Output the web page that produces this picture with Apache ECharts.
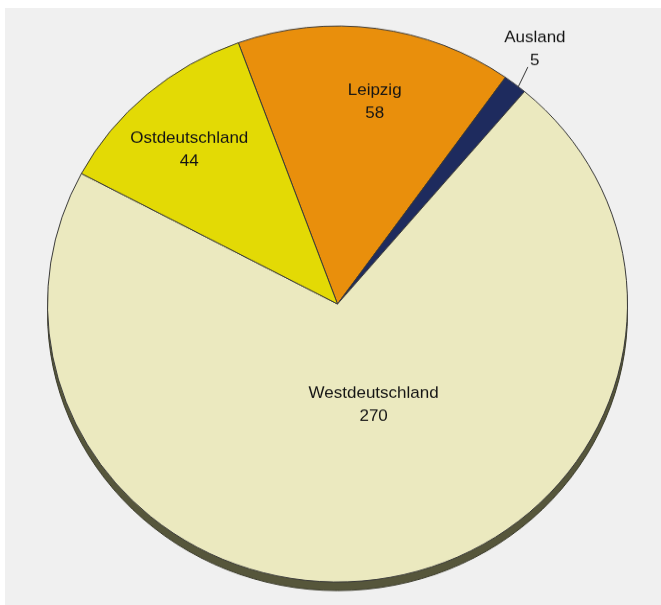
<!DOCTYPE html>
<html><head><meta charset="utf-8">
<script src="https://cdn.jsdelivr.net/npm/echarts@6/dist/echarts.min.js"></script>
<style>
html,body{margin:0;padding:0;background:#fff;overflow:hidden;width:661px;height:605px}
#bg{position:absolute;left:5px;top:8px;width:656px;height:597px;background:#f0f0f0}
#chart{position:absolute;left:0;top:0;width:661px;height:660px;transform:scaleY(0.9586);transform-origin:0 0}
</style></head><body>
<div id="bg"></div><div id="chart"></div>
<script>
// Data (drawing order: clockwise from the Leipzig/Ostdeutschland boundary)
const categories = ['Leipzig', 'Ausland', 'Westdeutschland', 'Ostdeutschland'];
const values = [58, 5, 270, 44];

// Styles / layout
const sliceColors = { Leipzig: '#E98F0C', Ausland: '#1E2B5E', Westdeutschland: '#EBE9BF', Ostdeutschland: '#E3DA05' };
const CX = 337.5, CY = 317.1, R = 290, START = 110;
const labelPolar = { Leipzig: [10, 214], Ausland: [36.6, 331], Westdeutschland: [161, 111], Ostdeutschland: [-42.6, 219] };

function polar(a, r) { const t = a * Math.PI / 180; return [CX + r * Math.sin(t), CY - r * Math.cos(t)]; }
const total = values.reduce((s, v) => s + v, 0);
function midAngle(i) {
  let before = 0; for (let k = 0; k < i; k++) before += values[k];
  return (90 - START) + (before + values[i] / 2) / total * 360;
}

const chart = echarts.init(document.getElementById('chart'), null, { renderer: 'canvas' });
chart.setOption({
  animation: false,
  backgroundColor: 'transparent',
  series: [
    {
      type: 'pie', silent: true, center: [CX, CY + 9], radius: R,
      label: { show: false }, labelLine: { show: false },
      itemStyle: { color: '#56563B', borderColor: '#3a3a2a', borderWidth: 1 },
      data: [{ value: total, name: 'shadow' }]
    },
    {
      type: 'pie', silent: true, center: [CX, CY], radius: R, startAngle: START, clockwise: true,
      avoidLabelOverlap: false,
      itemStyle: { borderColor: '#3a3a3a', borderWidth: 1 },
      label: { show: true, position: 'inside', formatter: '{b}\n{c}', fontSize: 17, lineHeight: 24,
               fontFamily: '"Liberation Sans", Arial, sans-serif', color: '#141414' },
      labelLine: { show: false },
      labelLayout: function (p) {
        const name = categories[p.dataIndex];
        const pos = polar(labelPolar[name][0], labelPolar[name][1]);
        const o = { x: pos[0], y: pos[1], align: 'center', verticalAlign: 'middle' };
        if (name === 'Ausland') {
          const m = midAngle(p.dataIndex);
          const end = polar(37.6, 312);
          o.labelLinePoints = [polar(m + 0.8, R), end, end];
        }
        return o;
      },
      data: categories.map((c, i) => {
        const d = { name: c, value: values[i], itemStyle: { color: sliceColors[c] } };
        if (c === 'Ausland') {
          d.label = { position: 'outside' };
          d.labelLine = { show: true, length: 20, length2: 0, lineStyle: { color: '#333', width: 1 } };
        }
        return d;
      })
    }
  ]
});
</script>
</body></html>
